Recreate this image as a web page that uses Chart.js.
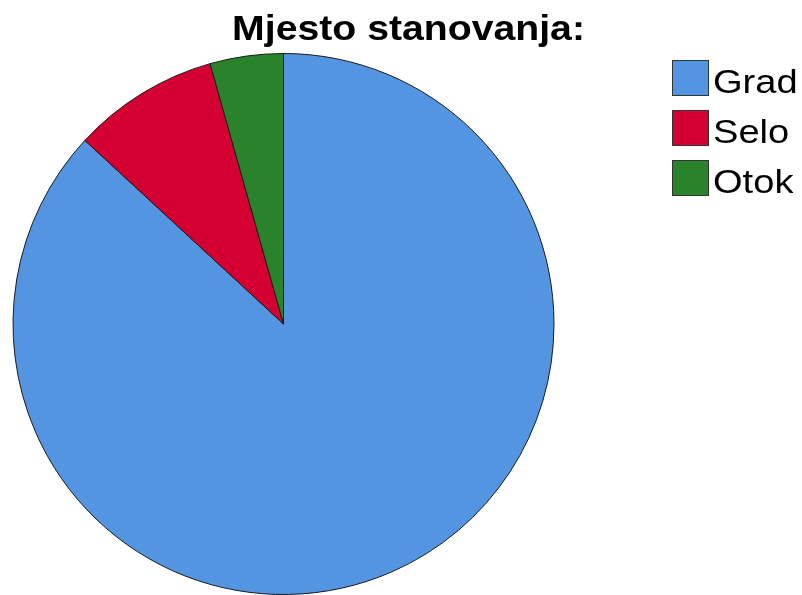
<!DOCTYPE html>
<html>
<head>
<meta charset="utf-8">
<script src="https://cdn.jsdelivr.net/npm/chart.js@4/dist/chart.umd.min.js"></script>
<style>
  body { margin:0; background:#fff; }
  #wrap { position:relative; width:802px; height:595px; overflow:hidden; font-family:"Liberation Sans", Arial, sans-serif; }
  #myChart { position:absolute; left:0; top:0; }
  #title { position:absolute; left:0; width:818px; top:10px; text-align:center; font-size:35px; line-height:35px; font-weight:bold; color:#000; }
  #title span { display:inline-block; transform:scaleX(1.12); }
  .item { position:absolute; left:672px; height:36px; }
  .item .box { position:absolute; left:0; top:0; width:35px; height:34px; border:1px solid #333; }
  .item .txt { position:absolute; left:41px; font-size:34px; line-height:34px; color:#000; white-space:nowrap; transform:scaleX(1.12); transform-origin:left top; }
</style>
</head>
<body>
<div id="wrap">
  <canvas id="myChart" width="802" height="595"></canvas>
  <div id="title"><span>Mjesto stanovanja:</span></div>
  <div id="legend"></div>
</div>
<script>
var title = 'Mjesto stanovanja:';
var labels = ['Grad', 'Selo', 'Otok'];
var values = [139, 14, 7];
var colors = ['#5495e2', '#d50032', '#2a822a'];

// legend in html, one row per category
var legend = document.getElementById('legend');
for (var i = 0; i < labels.length; i++) {
    var row = document.createElement('div');
    row.className = 'item';
    row.style.top = (60 + i * 50) + 'px';
    row.innerHTML = '<div class="box" style="background:' + colors[i] + '"></div>' +
                    '<div class="txt" style="top:4px">' + labels[i] + '</div>';
    legend.appendChild(row);
}

var ctx = document.getElementById('myChart').getContext('2d');
var chart = new Chart(ctx, {
    type: 'pie',
    data: {
        labels: labels,
        datasets: [{
            data: values,
            backgroundColor: colors,
            borderColor: '#1a1a1a',
            borderWidth: 1
        }]
    },
    options: {
        responsive: false,
        animation: false,
        layout: { padding: { left: 12, right: 247, top: 53, bottom: 0 } },
        plugins: {
            legend: { display: false },
            title: { display: false },
            tooltip: { enabled: false }
        }
    }
});
</script>
</body>
</html>
